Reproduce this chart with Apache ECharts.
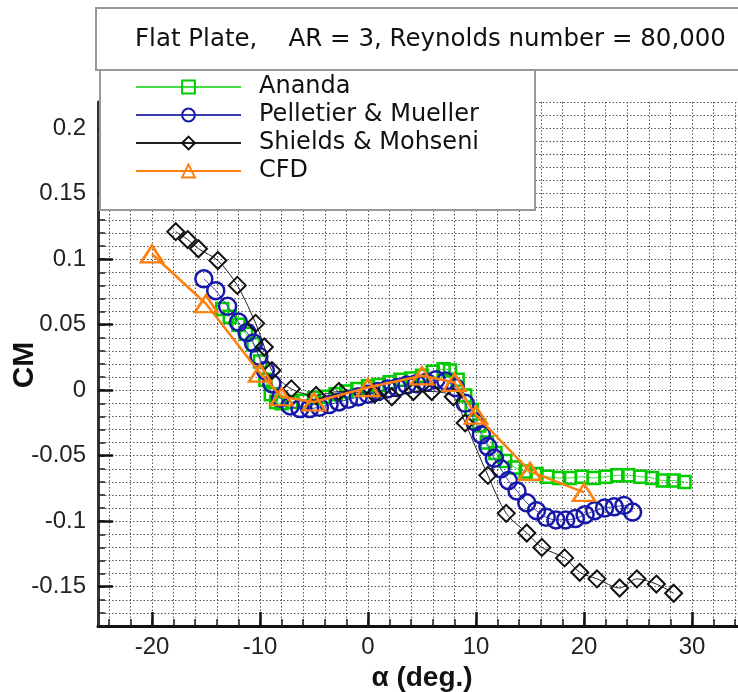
<!DOCTYPE html>
<html>
<head>
<meta charset="utf-8">
<script src="https://cdn.jsdelivr.net/npm/echarts@6/dist/echarts.min.js"></script>
<style>
html,body{margin:0;padding:0;background:#fff;}
#chart{width:738px;height:692px;}
</style>
</head>
<body>
<div id="chart"></div>
<script>
// ---- data ----
const anandaAlpha = [-13.5,-12.8,-12.0,-11.3,-10.6,-10.0,-9.5,-9.0,-8.5,-8.0,-7.0,-6.0,-5.0,-4.0,-3.0,-2.0,-1.0,0.0,1.0,2.0,3.0,4.0,5.0,6.0,7.0,7.6,8.3,9.0,9.6,10.3,11.0,11.8,12.7,13.6,14.6,15.6,16.6,17.7,18.7,19.8,20.9,22.0,23.1,24.1,25.2,26.3,27.3,28.3,29.3];
const anandaCM = [0.062,0.056,0.050,0.043,0.035,0.022,0.008,-0.003,-0.009,-0.010,-0.009,-0.008,-0.006,-0.005,-0.003,-0.001,0.001,0.003,0.004,0.006,0.008,0.009,0.011,0.014,0.016,0.015,0.008,-0.004,-0.015,-0.027,-0.040,-0.048,-0.054,-0.059,-0.062,-0.064,-0.066,-0.067,-0.067,-0.066,-0.067,-0.066,-0.065,-0.065,-0.066,-0.067,-0.069,-0.069,-0.070];

const pelletierAlpha = [-15.2,-14.1,-13.0,-12.0,-11.2,-10.6,-10.1,-9.5,-8.9,-8.1,-7.2,-6.3,-5.4,-4.5,-3.6,-2.7,-1.8,-0.9,0.0,0.9,1.8,2.7,3.6,4.5,5.4,6.3,7.2,8.1,9.0,9.9,10.5,11.1,11.7,12.3,13.0,13.8,14.7,15.6,16.5,17.4,18.3,19.2,20.1,21.0,21.9,22.8,23.7,24.5];
const pelletierCM = [0.085,0.076,0.064,0.052,0.044,0.036,0.026,0.015,0.005,-0.006,-0.012,-0.014,-0.014,-0.013,-0.011,-0.009,-0.007,-0.005,-0.003,-0.001,0.001,0.002,0.004,0.005,0.006,0.008,0.007,0.002,-0.010,-0.024,-0.034,-0.043,-0.052,-0.060,-0.069,-0.077,-0.086,-0.092,-0.097,-0.099,-0.099,-0.098,-0.095,-0.092,-0.090,-0.089,-0.088,-0.093];

const shieldsAlpha = [-17.8,-16.7,-15.7,-13.9,-12.1,-10.4,-9.6,-8.9,-7.1,-4.8,-2.7,0.6,2.2,4.2,5.9,7.9,9.0,11.1,12.8,14.7,16.1,18.2,19.6,21.2,23.3,24.9,26.7,28.3];
const shieldsCM = [0.121,0.115,0.108,0.099,0.080,0.051,0.033,0.015,0.001,-0.004,-0.001,-0.003,-0.005,-0.001,-0.001,-0.005,-0.025,-0.065,-0.094,-0.109,-0.120,-0.128,-0.139,-0.144,-0.151,-0.144,-0.148,-0.155];

const cfdAlpha = [-20,-15,-10,-8,-5,0,5,8,10,15,20];
const cfdCM = [0.104,0.066,0.013,-0.005,-0.009,0.002,0.011,0.006,-0.019,-0.062,-0.078];

const seriesNames = ['Ananda','Pelletier & Mueller','Shields & Mohseni','CFD'];
const xLabelTicks = [-20,-10,0,10,20,30];
const xMinorTicks = [-24,-22,-20,-18,-16,-14,-12,-10,-8,-6,-4,-2,0,2,4,6,8,10,12,14,16,18,20,22,24,26,28,30,32,34];
const yLabelTicks = [-0.15,-0.1,-0.05,0,0.05,0.1,0.15,0.2];
const titleText = 'Flat Plate,    AR = 3, Reynolds number = 80,000';
const xName = 'α (deg.)';
const yName = 'CM';

function pairs(xs, ys){ return xs.map((x,i)=>[x, ys[i]]); }

const chart = echarts.init(document.getElementById('chart'), null, {renderer:'canvas'});
const labelFont = {fontFamily:'Liberation Sans', fontSize:24, color:'#222'};

const option = {
  animation:false,
  backgroundColor:'#fff',
  grid:{left:98, right:-8, top:102, bottom:66, containLabel:false, outerBoundsMode:'none'},
  xAxis:[
    {type:'value', gridIndex:0, min:-25, max:35, position:'bottom',
     name:xName, nameLocation:'middle', nameGap:33,
     nameTextStyle:{fontFamily:'Liberation Sans', fontWeight:'bold', fontSize:28, color:'#111'},
     axisLine:{show:true, onZero:false, lineStyle:{color:'#111', width:3}},
     axisTick:{show:true, inside:true, length:7, customValues:xMinorTicks, lineStyle:{color:'#222', width:1.5}},
     splitLine:{show:true, lineStyle:{type:[1.5,2], color:'#555', width:1}},
     axisLabel:Object.assign({customValues:xLabelTicks, margin:9, formatter:v=>String(v)}, labelFont)
    },
    {type:'value', gridIndex:0, min:-25, max:35, position:'bottom',
     axisLine:{show:true, onZero:false, lineStyle:{color:'rgba(0,0,0,0)'}}, axisLabel:{show:false}, splitLine:{show:false},
     axisTick:{show:true, inside:true, length:14, customValues:xLabelTicks, lineStyle:{color:'#111', width:2.5}}
    }
  ],
  yAxis:[
    {type:'value', gridIndex:0, min:-0.18, max:0.22, interval:0.01, position:'left',
     axisLine:{show:true, onZero:false, lineStyle:{color:'#333', width:3}},
     axisTick:{show:true, inside:true, length:7, lineStyle:{color:'#222', width:1.5}},
     splitLine:{show:true, lineStyle:{type:[1.5,2], color:'#555', width:1}},
     axisLabel:Object.assign({customValues:yLabelTicks, margin:12, formatter:v=>String(parseFloat(Number(v).toFixed(2)))}, labelFont)
    },
    {type:'value', gridIndex:0, min:-0.18, max:0.22, position:'left',
     axisLine:{show:true, onZero:false, lineStyle:{color:'rgba(0,0,0,0)'}}, axisLabel:{show:false}, splitLine:{show:false},
     axisTick:{show:true, inside:true, length:15, customValues:yLabelTicks, lineStyle:{color:'#111', width:2.5}}
    }
  ],
  legend:{
    show:true, z:20, left:135, top:75, orient:'vertical', padding:0,
    itemWidth:105, itemHeight:16, itemGap:4,
    data:seriesNames,
    textStyle:{fontFamily:'DejaVu Sans', fontSize:24, color:'#111', lineHeight:22, padding:[0,0,0,13]}
  },
  graphic:[
    {type:'rect', z:10, shape:{x:96, y:8, width:700, height:62}, style:{fill:'#fff', stroke:'#999', lineWidth:2}},
    {type:'text', z:11, x:135, y:40, style:{text:titleText, fontFamily:'DejaVu Sans', fontSize:24.5, fill:'#111', verticalAlign:'middle'}},
    {type:'rect', z:10, shape:{x:100, y:70, width:435, height:140}, style:{fill:'#fff', stroke:'#999', lineWidth:2}},
    {type:'text', z:11, x:25, y:365, rotation:Math.PI/2,
     style:{text:yName, fontFamily:'Liberation Sans', fontWeight:'bold', fontSize:30, fill:'#111', align:'center', verticalAlign:'middle'}}
  ],
  series:[
    {name:seriesNames[0], type:'line', data:pairs(anandaAlpha, anandaCM), smooth:0.3,
     symbol:'rect', symbolSize:12,
     lineStyle:{color:'#44dd44', width:1},
     itemStyle:{color:'rgba(0,0,0,0)', borderColor:'#00cc00', borderWidth:2.5}, z:2},
    {name:seriesNames[1], type:'line', data:pairs(pelletierAlpha, pelletierCM), smooth:0.3,
     symbol:'circle', symbolSize:17,
     lineStyle:{color:'#3a3ab0', width:1},
     itemStyle:{color:'rgba(0,0,0,0)', borderColor:'#1818a8', borderWidth:2.5}, z:3},
    {name:seriesNames[2], type:'line', data:pairs(shieldsAlpha, shieldsCM), smooth:0.3,
     symbol:'diamond', symbolSize:17,
     lineStyle:{color:'#222', width:1},
     itemStyle:{color:'rgba(0,0,0,0)', borderColor:'#111', borderWidth:2}, z:4},
    {name:seriesNames[3], type:'line', data:pairs(cfdAlpha, cfdCM), smooth:false,
     symbol:'triangle', symbolSize:[22,17],
     lineStyle:{color:'#ff7f0e', width:2.5},
     itemStyle:{color:'rgba(0,0,0,0)', borderColor:'#ff7f0e', borderWidth:2.5}, z:5}
  ]
};
chart.setOption(option);
</script>
</body>
</html>
